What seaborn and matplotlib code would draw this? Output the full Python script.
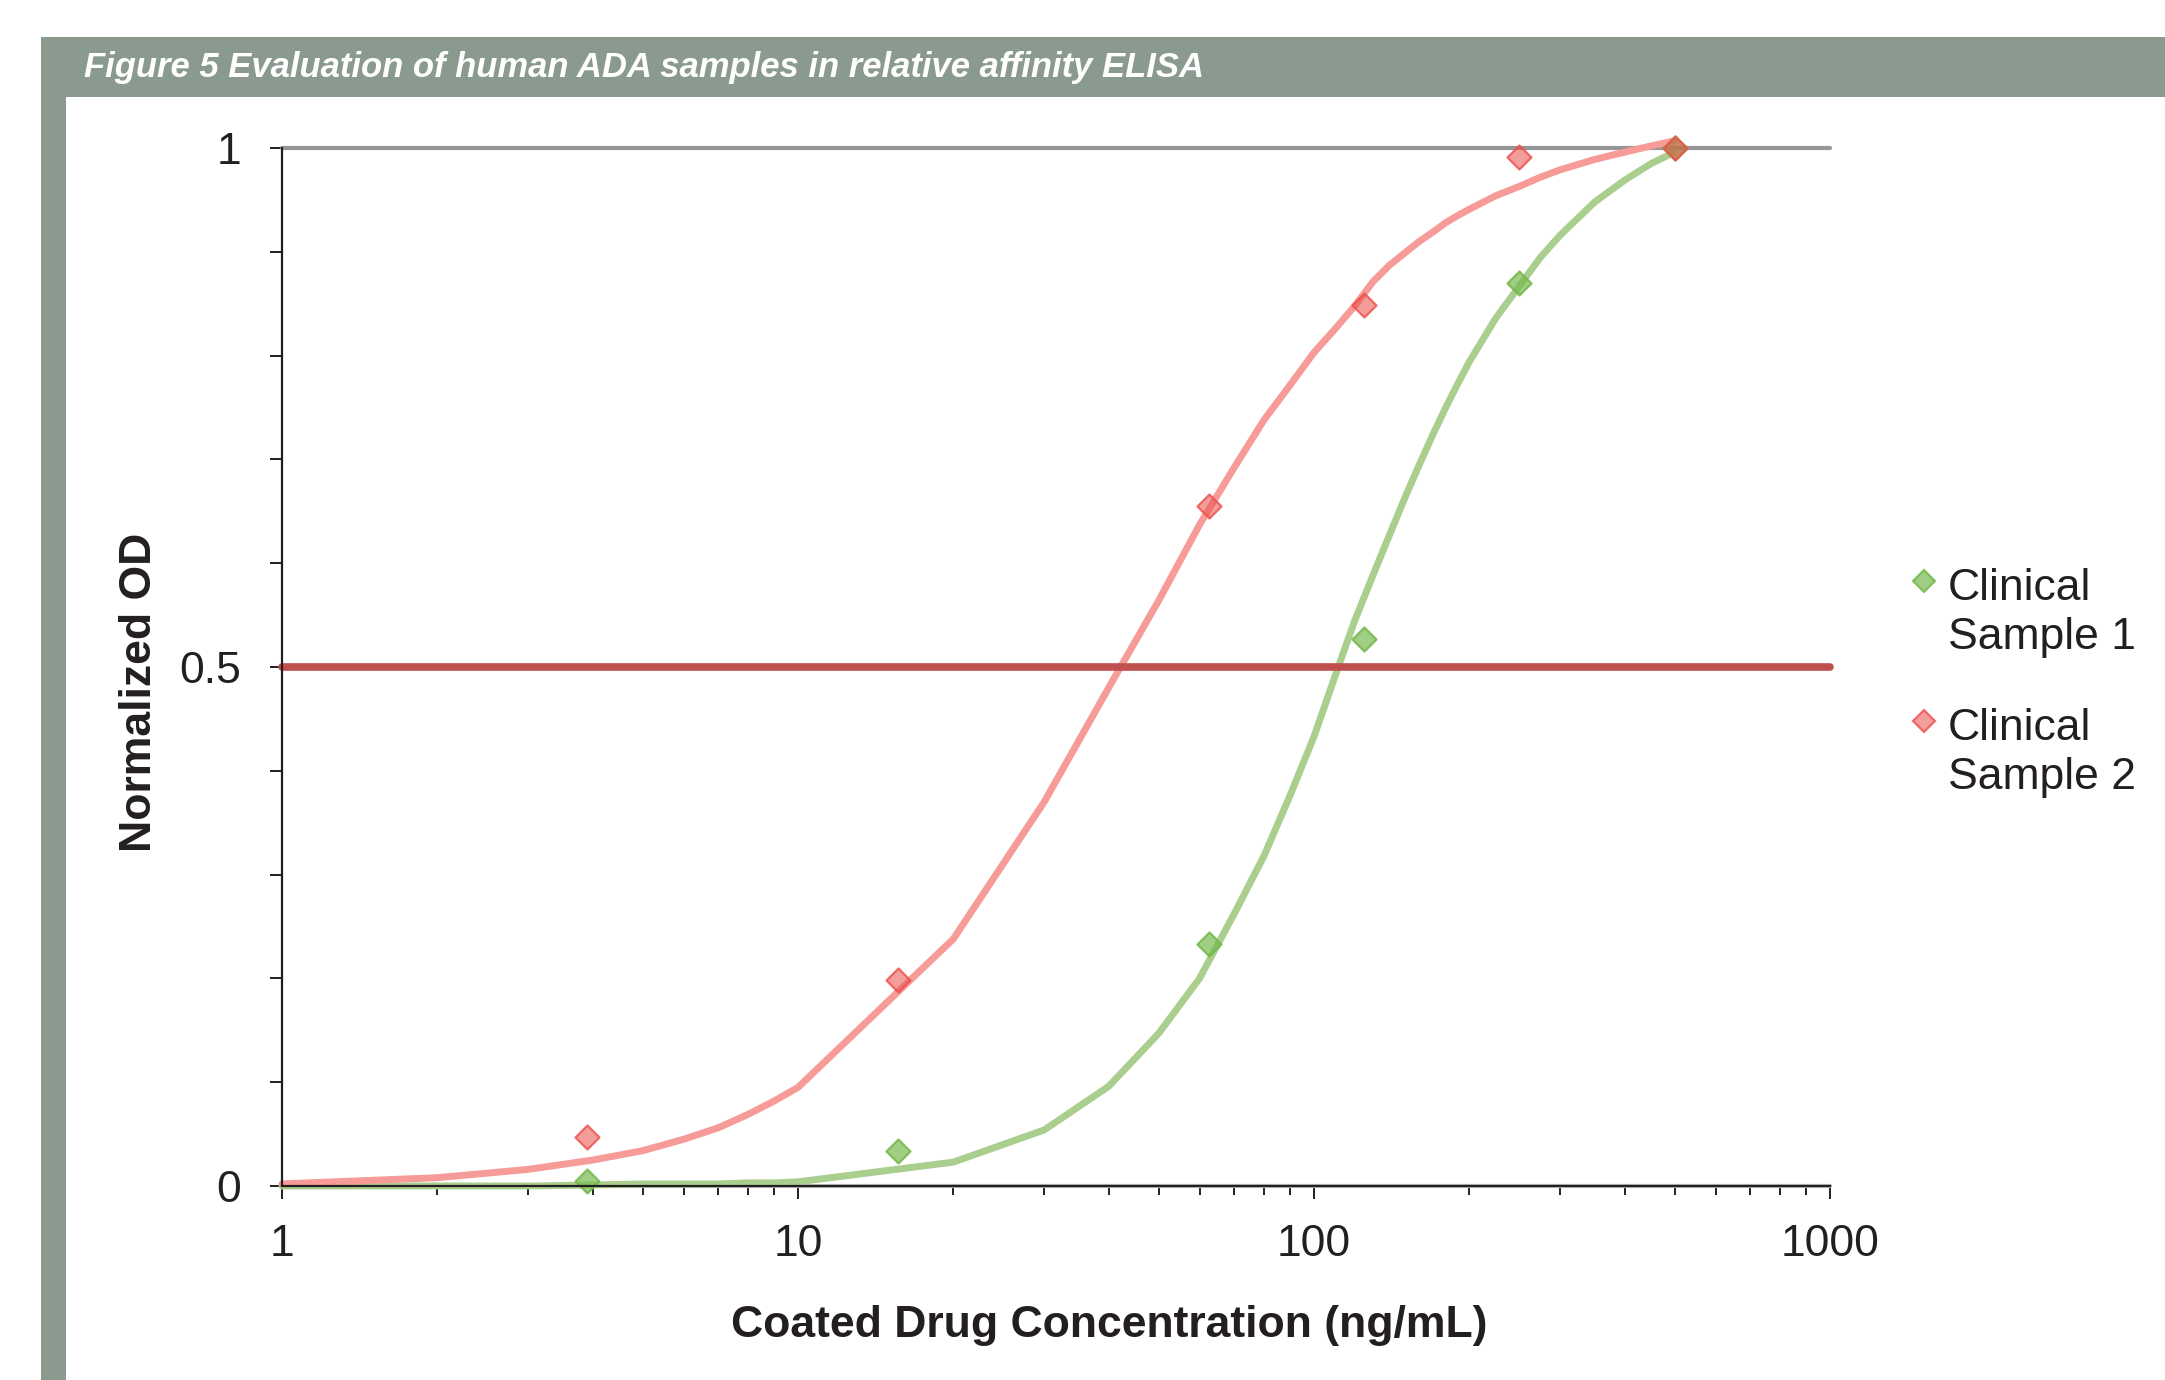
import numpy as np
import pandas as pd
import matplotlib
matplotlib.use("Agg")
import matplotlib.pyplot as plt
import seaborn as sns
from matplotlib.lines import Line2D
from matplotlib.patches import Rectangle
from matplotlib.ticker import FixedLocator, LogLocator, NullFormatter

# ---- data -------------------------------------------------------------
sample_names = ["Clinical Sample 1", "Clinical Sample 2"]

# measured points (coated drug ng/mL -> normalized OD)
conc_points = [3.9, 15.6, 62.5, 125, 250, 500]
sample1_od = [0.005, 0.034, 0.233, 0.527, 0.870, 1.000]
sample2_od = [0.047, 0.198, 0.655, 0.849, 0.991, 1.000]

# fitted curves
curve_conc = [1, 2, 3, 4, 5, 6, 7, 8, 9, 10,
              20, 30, 40, 50, 60, 70, 80, 90, 100,
              110, 120, 130, 140, 150, 160, 170, 180, 190, 200,
              225, 250, 275, 300, 350, 400, 450, 500]
sample1_fit = [0.000, 0.000, 0.000, 0.001, 0.002, 0.002, 0.002, 0.003, 0.003, 0.004,
               0.023, 0.054, 0.096, 0.147, 0.200, 0.262, 0.318, 0.377, 0.433,
               0.492, 0.545, 0.588, 0.627, 0.663, 0.695, 0.724, 0.750, 0.773, 0.794,
               0.836, 0.867, 0.895, 0.916, 0.948, 0.969, 0.985, 0.996]
sample2_fit = [0.002, 0.008, 0.016, 0.025, 0.034, 0.045, 0.056, 0.069, 0.082, 0.095,
               0.238, 0.370, 0.480, 0.564, 0.637, 0.692, 0.738, 0.772, 0.803,
               0.826, 0.848, 0.871, 0.887, 0.899, 0.910, 0.919, 0.928, 0.935, 0.941,
               0.954, 0.963, 0.972, 0.979, 0.989, 0.996, 1.002, 1.007]

x_ticks = [1, 10, 100, 1000]
x_tick_labels = ["1", "10", "100", "1000"]
y_ticks = [0.0, 0.1, 0.2, 0.3, 0.4, 0.5, 0.6, 0.7, 0.8, 0.9, 1.0]
y_tick_labels = ["0", "", "", "", "", "0.5", "", "", "", "", "1"]
half_max = 0.5

# ---- styling ----------------------------------------------------------
sns.set_theme(style="white")
plt.rcParams["font.family"] = ["Liberation Sans", "DejaVu Sans"]

INK = "#231F20"
FRAME = "#8A9A8F"
line_colors = {"Clinical Sample 1": "#AACE8E", "Clinical Sample 2": "#F69B98"}
mark_face = {"Clinical Sample 1": (0.455, 0.722, 0.290, 0.68),
             "Clinical Sample 2": (0.925, 0.310, 0.290, 0.55)}
mark_edge = {"Clinical Sample 1": (0.455, 0.722, 0.290, 0.85),
             "Clinical Sample 2": (0.925, 0.310, 0.290, 0.80)}

curves = pd.DataFrame({
    "conc": curve_conc * 2,
    "od": sample1_fit + sample2_fit,
    "sample": [sample_names[0]] * len(curve_conc) + [sample_names[1]] * len(curve_conc),
})
points = pd.DataFrame({
    "conc": conc_points * 2,
    "od": sample1_od + sample2_od,
    "sample": [sample_names[0]] * len(conc_points) + [sample_names[1]] * len(conc_points),
})

W, H = 2165, 1380
fig = plt.figure(figsize=(W / 100, H / 100), dpi=100)
fig.patch.set_facecolor("white")

# grey frame: header band and left strip
fig.add_artist(Rectangle((41 / W, 1 - 97 / H), 1 - 41 / W, 60 / H,
                         transform=fig.transFigure, facecolor=FRAME,
                         edgecolor="none", zorder=0))
fig.add_artist(Rectangle((41 / W, 0), 25 / W, 1 - 37 / H,
                         transform=fig.transFigure, facecolor=FRAME,
                         edgecolor="none", zorder=0))

title = fig.text(84 / W, 1 - 67 / H,
                 "Figure 5 Evaluation of human ADA samples in relative affinity ELISA",
                 color="white", fontweight="bold", fontstyle="italic",
                 fontsize=24, ha="left", va="center")
fig.canvas.draw()
tw = title.get_window_extent().width
title.set_fontsize(24 * 1124 / tw)

ax = fig.add_axes([282 / W, 1 - 1186 / H, 1548 / W, 1038 / H])
ax.set_facecolor("white")
ax.set_xscale("log")

# reference lines
ax.axhline(1.0, color="#969696", lw=3.0, zorder=1)
ax.axhline(0.0, color="#BDBDBD", lw=3.0, zorder=1)

sns.lineplot(data=curves, x="conc", y="od", hue="sample", hue_order=sample_names,
             palette=line_colors, estimator=None, sort=True, lw=5.0,
             legend=False, ax=ax, zorder=2)

ax.axhline(half_max, color="#C0504D", lw=5.5, zorder=3)

for name in sample_names:
    sub = points[points["sample"] == name]
    sns.scatterplot(data=sub, x="conc", y="od", marker="D", s=150,
                    color=mark_face[name][:3], linewidth=1.6,
                    legend=False, ax=ax, zorder=4)
    coll = ax.collections[-1]
    coll.set_alpha(None)
    coll.set_facecolor(mark_face[name])
    coll.set_edgecolor(mark_edge[name])

for art in list(ax.lines) + list(ax.collections):
    art.set_clip_on(False)

ax.set_xlim(1, 1000)
ax.set_ylim(0, 1)

ax.xaxis.set_major_locator(FixedLocator(x_ticks))
ax.set_xticklabels(x_tick_labels)
ax.xaxis.set_minor_locator(LogLocator(base=10, subs=np.arange(2, 10)))
ax.xaxis.set_minor_formatter(NullFormatter())
ax.set_yticks(y_ticks)
ax.set_yticklabels(y_tick_labels)

ax.tick_params(axis="x", which="major", direction="out", length=9.4, width=1.4,
               color=INK, pad=18, labelsize=32, labelcolor=INK, bottom=True)
ax.tick_params(axis="x", which="minor", direction="out", length=6.7, width=1.4,
               color=INK, bottom=True)
ax.tick_params(axis="y", which="major", direction="out", length=8.6, width=1.4,
               color=INK, pad=21, labelsize=32, labelcolor=INK, left=True)

for side in ("top", "right"):
    ax.spines[side].set_visible(False)
for side in ("left", "bottom"):
    ax.spines[side].set_color(INK)
    ax.spines[side].set_linewidth(1.6)
    ax.spines[side].set_zorder(5)

ax.set_xlabel("Coated Drug Concentration (ng/mL)", fontsize=32,
              fontweight="bold", color=INK)
ax.xaxis.set_label_coords(827 / 1548, -119 / 1038)
ax.set_ylabel("Normalized OD", fontsize=32, fontweight="bold", color=INK,
              va="center", ha="center")
ax.yaxis.set_label_coords(-142 / 1548, 494 / 1038)

# legend: marker aligned with the first line of each two-line label
legend_rows = [
    (sample_names[0], 581, ("Clinical", "Sample 1"), 600),
    (sample_names[1], 721, ("Clinical", "Sample 2"), 740),
]
for name, ymk, lines, ybase in legend_rows:
    fig.add_artist(Line2D([1924 / W], [1 - ymk / H], transform=fig.transFigure,
                          marker="D", markersize=11, linestyle="none",
                          markerfacecolor=mark_face[name],
                          markeredgecolor=mark_edge[name], markeredgewidth=1.6))
    for i, txt in enumerate(lines):
        fig.text(1948 / W, 1 - (ybase + 49 * i) / H, txt, fontsize=32,
                 color=INK, ha="left", va="baseline")

fig.savefig("out.png", dpi=100, facecolor="white")
